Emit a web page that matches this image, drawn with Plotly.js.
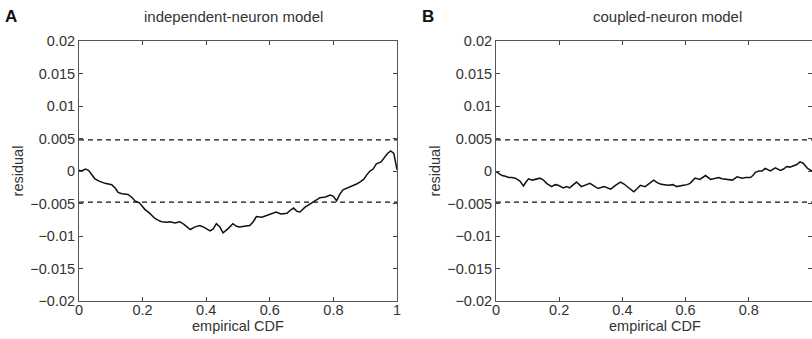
<!DOCTYPE html>
<html>
<head>
<meta charset="utf-8">
<script src="https://cdn.plot.ly/plotly-3.0.1.min.js"></script>
<style>html,body{margin:0;padding:0;background:#fff;}#chart{width:812px;height:339px;}</style>
</head>
<body>
<div id="chart"></div>
<script>
// Panel A: independent-neuron model
var xA = [0, 0.008, 0.02, 0.03, 0.05, 0.065, 0.082, 0.095, 0.103, 0.115, 0.123, 0.135, 0.154, 0.165, 0.176, 0.19, 0.207, 0.22, 0.239, 0.25, 0.26, 0.275, 0.286, 0.302, 0.317, 0.33, 0.35, 0.365, 0.38, 0.395, 0.412, 0.422, 0.432, 0.443, 0.453, 0.468, 0.484, 0.495, 0.505, 0.52, 0.537, 0.548, 0.558, 0.575, 0.59, 0.605, 0.62, 0.635, 0.654, 0.665, 0.675, 0.685, 0.695, 0.71, 0.727, 0.742, 0.758, 0.775, 0.79, 0.8, 0.81, 0.82, 0.83, 0.845, 0.863, 0.873, 0.883, 0.895, 0.905, 0.915, 0.925, 0.935, 0.95, 0.96, 0.97, 0.98, 0.99, 1.0];
var yA = [0.0001, 0.0000, 0.0003, 0.0001, -0.0012, -0.0016, -0.0019, -0.0020, -0.0021, -0.0027, -0.0033, -0.0035, -0.0036, -0.0040, -0.0046, -0.0049, -0.0059, -0.0064, -0.0073, -0.0076, -0.0078, -0.0079, -0.0078, -0.0080, -0.0078, -0.0082, -0.0090, -0.0086, -0.0084, -0.0087, -0.0092, -0.0089, -0.0081, -0.0086, -0.0095, -0.0089, -0.0081, -0.0085, -0.0086, -0.0085, -0.0084, -0.0078, -0.0070, -0.0071, -0.0068, -0.0066, -0.0063, -0.0066, -0.0065, -0.0060, -0.0057, -0.0062, -0.0063, -0.0056, -0.0050, -0.0046, -0.0041, -0.0040, -0.0037, -0.0039, -0.0046, -0.0036, -0.0029, -0.0026, -0.0022, -0.0020, -0.0017, -0.0013, -0.0006, 0.0000, 0.0003, 0.0011, 0.0014, 0.0020, 0.0027, 0.0031, 0.0027, 0.0002];

// Panel B: coupled-neuron model
var xB = [0, 0.01, 0.019, 0.03, 0.04, 0.05, 0.061, 0.075, 0.087, 0.095, 0.103, 0.115, 0.124, 0.139, 0.15, 0.16, 0.176, 0.187, 0.197, 0.213, 0.223, 0.233, 0.245, 0.255, 0.27, 0.285, 0.297, 0.31, 0.323, 0.342, 0.353, 0.363, 0.378, 0.394, 0.405, 0.415, 0.425, 0.436, 0.447, 0.457, 0.472, 0.486, 0.499, 0.51, 0.52, 0.533, 0.546, 0.56, 0.572, 0.593, 0.605, 0.614, 0.63, 0.645, 0.655, 0.663, 0.679, 0.695, 0.705, 0.715, 0.726, 0.748, 0.763, 0.779, 0.79, 0.805, 0.813, 0.821, 0.832, 0.842, 0.852, 0.868, 0.884, 0.9, 0.91, 0.92, 0.93, 0.941, 0.952, 0.962, 0.972, 0.986, 1.0];
var yB = [-0.0001, -0.0004, -0.0007, -0.0008, -0.0010, -0.0010, -0.0011, -0.0015, -0.0023, -0.0017, -0.0012, -0.0014, -0.0013, -0.0011, -0.0014, -0.0019, -0.0024, -0.0021, -0.0022, -0.0026, -0.0024, -0.0026, -0.0021, -0.0017, -0.0024, -0.0021, -0.0019, -0.0023, -0.0027, -0.0024, -0.0026, -0.0028, -0.0022, -0.0017, -0.0020, -0.0024, -0.0027, -0.0032, -0.0027, -0.0022, -0.0024, -0.0019, -0.0014, -0.0018, -0.0020, -0.0021, -0.0022, -0.0021, -0.0024, -0.0022, -0.0021, -0.0019, -0.0011, -0.0013, -0.0009, -0.0007, -0.0013, -0.0011, -0.0010, -0.0012, -0.0013, -0.0014, -0.0009, -0.0011, -0.0010, -0.0010, -0.0007, -0.0002, 0.0000, 0.0000, 0.0004, 0.0000, 0.0005, 0.0001, 0.0003, 0.0007, 0.0006, 0.0008, 0.0010, 0.0014, 0.0012, 0.0004, 0.0000];

// Confidence bounds
var boundX = [0, 1];
var boundUpper = [0.0048, 0.0048];
var boundLower = [-0.0048, -0.0048];

// Ticks
var xTickVals = [0, 0.2, 0.4, 0.6, 0.8, 1];
var xTickText = ['0', '0.2', '0.4', '0.6', '0.8', '1'];
var yTickVals = [0.02, 0.015, 0.01, 0.005, 0, -0.005, -0.01, -0.015, -0.02];
var yTickText = ['0.02', '0.015', '0.01', '0.005', '0', '\u22120.005', '\u22120.01', '\u22120.015', '\u22120.02'];

var W = 812, H = 339;
var fontFam = 'Liberation Sans, Arial, sans-serif';

function curve(x, y, xa, ya) {
  return {x: x, y: y, xaxis: xa, yaxis: ya, type: 'scatter', mode: 'lines',
          line: {color: '#111', width: 1.5}, hoverinfo: 'skip', showlegend: false};
}
function bound(y, xa, ya) {
  return {x: boundX, y: y, xaxis: xa, yaxis: ya, type: 'scatter', mode: 'lines',
          line: {color: '#111', width: 1.3, dash: '5px,4px'}, hoverinfo: 'skip', showlegend: false};
}

var data = [
  bound(boundUpper, 'x', 'y'), bound(boundLower, 'x', 'y'), curve(xA, yA, 'x', 'y'),
  bound(boundUpper, 'x2', 'y2'), bound(boundLower, 'x2', 'y2'), curve(xB, yB, 'x2', 'y2')
];

function xAxis(dom, anchor) {
  return {domain: dom, anchor: anchor, range: [0, 1], tickvals: xTickVals, ticktext: xTickText,
          ticks: 'inside', ticklen: 4, tickcolor: '#444', showline: true, linecolor: '#555', linewidth: 1,
          mirror: 'ticks', showgrid: false, zeroline: false, ticklabelstandoff: -4,
          tickfont: {family: fontFam, size: 14.5, color: '#333'}};
}
function yAxis(anchor) {
  return {domain: [1 - 301 / H, 1 - 41 / H], anchor: anchor, range: [-0.02, 0.02],
          tickvals: yTickVals, ticktext: yTickText,
          ticks: 'inside', ticklen: 4, tickcolor: '#444', showline: true, linecolor: '#555', linewidth: 1,
          mirror: 'ticks', showgrid: false, zeroline: false, ticklabelstandoff: 0,
          tickfont: {family: fontFam, size: 14.5, color: '#333'},
          title: {text: 'residual', font: {family: fontFam, size: 14.5, color: '#333'}, standoff: 3}};
}

function ann(text, px, py, size, color) {
  return {text: text, x: px / W, y: 1 - py / H, xref: 'paper', yref: 'paper', showarrow: false,
          xanchor: 'center', yanchor: 'middle', font: {family: fontFam, size: size, color: color}};
}

var layout = {
  width: W, height: H,
  margin: {l: 0, r: 0, t: 0, b: 0},
  paper_bgcolor: '#fff', plot_bgcolor: '#fff',
  xaxis: xAxis([79 / W, 397 / W], 'y'),
  yaxis: yAxis('x'),
  xaxis2: xAxis([496 / W, 1], 'y2'),
  yaxis2: yAxis('x2'),
  annotations: [
    ann('<b>A</b>', 11, 16, 17, '#111'),
    ann('<b>B</b>', 428, 16, 17, '#111'),
    ann('independent-neuron model', 233, 16, 15, '#333'),
    ann('coupled-neuron model', 667, 16, 15, '#333'),
    ann('empirical CDF', 238, 326, 14.5, '#333'),
    ann('empirical CDF', 655, 326, 14.5, '#333')
  ]
};

Plotly.newPlot('chart', data, layout, {staticPlot: true, displayModeBar: false});
</script>
</body>
</html>
